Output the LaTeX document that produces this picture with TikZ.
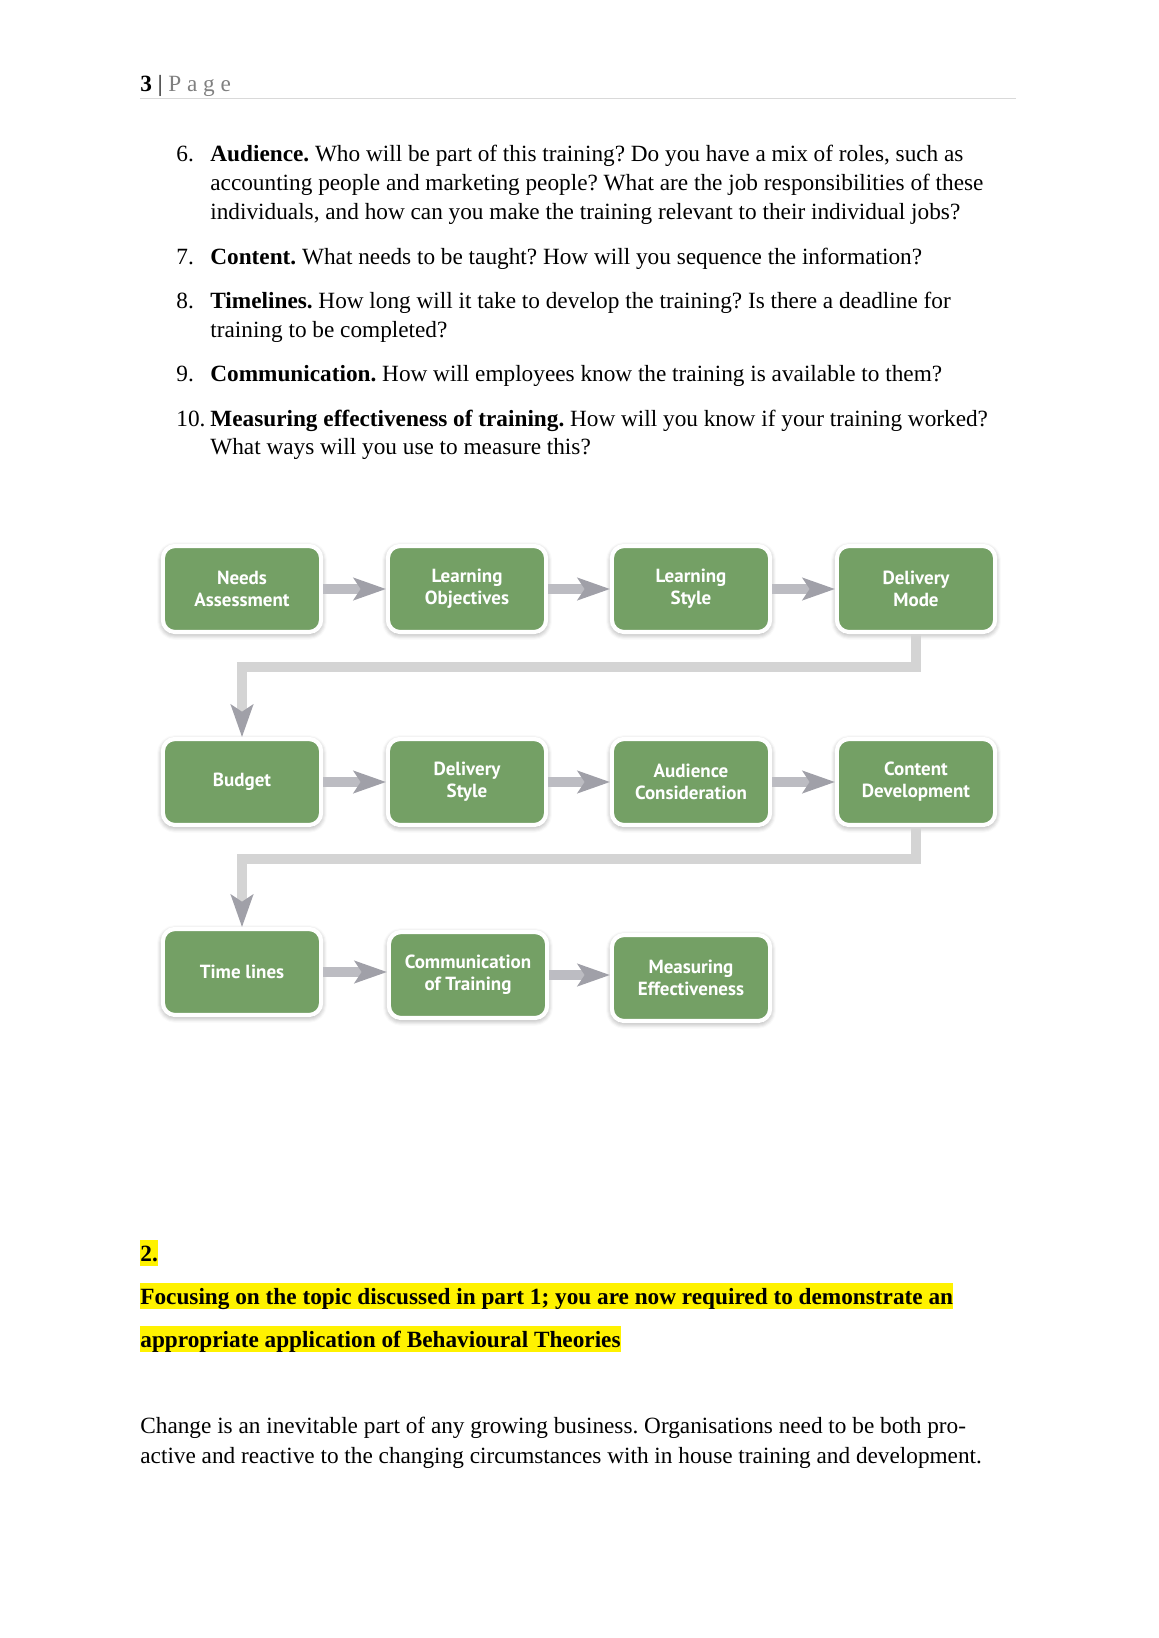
\documentclass[tikz,border=0pt]{standalone}
\usepackage{fontspec}
\setmainfont{Liberation Serif}
\newfontfamily\boxfont{PT Sans}
\usetikzlibrary{arrows.meta,shadows.blur}
\frenchspacing

\definecolor{boxgreen}{RGB}{116,160,101}
\definecolor{shaftgray}{RGB}{188,188,194}
\definecolor{headgray}{RGB}{160,160,168}
\definecolor{linkgray}{RGB}{212,212,212}
\definecolor{rulegray}{RGB}{217,217,217}
\definecolor{pagegray}{RGB}{128,128,128}

\tikzset{
  stepbox/.style={rectangle,rounded corners=2.2mm,draw=white,line width=0.75mm,
    fill=boxgreen,minimum width=28.7mm,minimum height=15.6mm,align=center,
    text=white,font={\boxfont\bfseries\fontsize{9.8pt}{11.3pt}\selectfont},
    blur shadow={shadow xshift=0pt,shadow yshift=-1pt,shadow blur radius=3pt,
      shadow blur steps=6,shadow opacity=45}},
  flowarrow/.style={line width=5pt,draw=shaftgray,
    -{Stealth[length=17pt,width=12pt,inset=4pt,line width=0pt,color=headgray]}},
  backlink/.style={line width=5pt,draw=linkgray,line join=miter,
    -{Stealth[length=17pt,width=12pt,inset=4pt,line width=0pt,color=headgray]}},
  pagetext/.style={anchor=base west,inner sep=0pt,font=\fontsize{12pt}{14.8pt}\selectfont},
  hilite/.style={pagetext,fill=yellow,text height=10.7pt,text depth=2.6pt,
    font=\bfseries\fontsize{12pt}{14.8pt}\selectfont}
}

\begin{document}
\begin{tikzpicture}[x=0.18135mm,y=-0.18135mm]
  \useasboundingbox (0,0) rectangle (1158,1638);

  % header
  \node[pagetext] (head) at (140,91.5) {\textbf{3} | {\color{pagegray}P a g e}};
  \coordinate (ruleL) at (140,98);
  \coordinate (ruleR) at (1016,98);
  \draw[rulegray,line width=0.5pt] (ruleL) -- (ruleR);

  % numbered list
  \node[pagetext] (n6) at (176,161.7) {6.};
  \node[pagetext] (t6a) at (210,161.7) {\textbf{Audience.} Who will be part of this training? Do you have a mix of roles, such as};
  \node[pagetext] (t6b) at (210,190.5) {accounting people and marketing people? What are the job responsibilities of these};
  \node[pagetext] (t6c) at (210,219.3) {individuals, and how can you make the training relevant to their individual jobs?};
  \node[pagetext] (n7) at (176,264) {7.};
  \node[pagetext] (t7a) at (210,264) {\textbf{Content.} What needs to be taught? How will you sequence the information?};
  \node[pagetext] (n8) at (176,308.3) {8.};
  \node[pagetext] (t8a) at (210,308.3) {\textbf{Timelines.} How long will it take to develop the training? Is there a deadline for};
  \node[pagetext] (t8b) at (210,337) {training to be completed?};
  \node[pagetext] (n9) at (176,381.7) {9.};
  \node[pagetext] (t9a) at (210,381.7) {\textbf{Communication.} How will employees know the training is available to them?};
  \node[pagetext] (n10) at (176,426) {10.};
  \node[pagetext] (t10a) at (210,426) {\textbf{Measuring effectiveness of training.} How will you know if your training worked?};
  \node[pagetext] (t10b) at (210,454.8) {What ways will you use to measure this?};

  % flow chart
  \node[stepbox] (needs) at (242,589) {Needs\\Assessment};
  \node[stepbox] (objectives) at (467,589) {Learning\\Objectives};
  \node[stepbox] (lstyle) at (691,589) {Learning\\Style};
  \node[stepbox] (dmode) at (916,589) {Delivery\\Mode};

  \node[stepbox] (budget) at (242,782) {Budget};
  \node[stepbox] (dstyle) at (467,782) {Delivery\\Style};
  \node[stepbox] (audience) at (691,782) {Audience\\Consideration};
  \node[stepbox] (content) at (916,782) {Content\\Development};

  \node[stepbox] (timelines) at (242,972) {Time lines};
  \node[stepbox] (comm) at (468,975) {Communication\\of Training};
  \node[stepbox] (measure) at (691,978) {Measuring\\Effectiveness};

  \coordinate (k1) at (242,667);
  \coordinate (k2) at (242,859);

  \draw[flowarrow] (needs) -- (objectives);
  \draw[flowarrow] (objectives) -- (lstyle);
  \draw[flowarrow] (lstyle) -- (dmode);
  \draw[backlink] (dmode.south) |- (k1) -- (budget.north);
  \draw[flowarrow] (budget) -- (dstyle);
  \draw[flowarrow] (dstyle) -- (audience);
  \draw[flowarrow] (audience) -- (content);
  \draw[backlink] (content.south) |- (k2) -- (timelines.north);
  \draw[flowarrow] (timelines.east) -- (timelines.east -| comm.west);
  \draw[flowarrow] (comm.east) -- (comm.east -| measure.west);

  % part 2
  \node[hilite] (q2) at (140,1261) {2.};
  \node[hilite] (q2a) at (140,1304) {Focusing on the topic discussed in part 1; you are now required to demonstrate an};
  \node[hilite] (q2b) at (140,1347) {appropriate application of Behavioural Theories};

  \node[pagetext] (p1a) at (140,1433) {Change is an inevitable part of any growing business. Organisations need to be both pro-};
  \node[pagetext] (p1b) at (140,1463) {active and reactive to the changing circumstances with in house training and development.};
\end{tikzpicture}
\end{document}
